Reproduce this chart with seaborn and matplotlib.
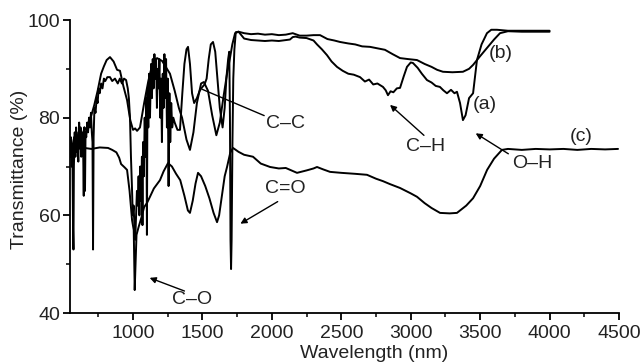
import pandas as pd
import matplotlib
matplotlib.use('Agg')
import matplotlib.pyplot as plt
import seaborn as sns

# Дані (довжина хвилі, пропускання)
wl_a = [546, 552, 558, 563, 568, 571, 574, 580, 585, 590,
        595, 600, 606, 612, 617, 622, 627, 633, 640, 645,
        649, 654, 658, 663, 670, 676, 683, 690, 697, 703,
        708, 712, 716, 722, 730, 738, 745, 752, 760, 770,
        780, 790, 800, 815, 834, 850, 870, 890, 905, 920,
        935, 950, 962, 970, 978, 985, 992, 998, 1004, 1010,
        1016, 1022, 1028, 1034, 1040, 1046, 1052, 1058, 1064, 1068,
        1072, 1078, 1084, 1090, 1096, 1100, 1104, 1110, 1116, 1122,
        1130, 1136, 1142, 1148, 1154, 1160, 1166, 1172, 1178, 1184,
        1190, 1196, 1202, 1208, 1214, 1220, 1226, 1232, 1238, 1244,
        1250, 1256, 1262, 1268, 1275, 1282, 1290, 1300, 1320, 1338,
        1355, 1370, 1385, 1396, 1410, 1425, 1440, 1460, 1480, 1500,
        1515, 1530, 1545, 1560, 1576, 1592, 1608, 1625, 1645, 1660,
        1672, 1685, 1693, 1698, 1702, 1706, 1710, 1716, 1722, 1730,
        1740, 1760, 1800, 1850, 1900, 1950, 2000, 2050, 2100, 2130,
        2150, 2170, 2200, 2250, 2300, 2325, 2360, 2397, 2430, 2469,
        2510, 2550, 2590, 2635, 2670, 2700, 2730, 2760, 2800, 2820,
        2836, 2855, 2875, 2900, 2923, 2950, 2973, 3000, 3016, 3050,
        3080, 3117, 3150, 3180, 3210, 3235, 3261, 3290, 3315, 3333,
        3355, 3376, 3395, 3420, 3449, 3477, 3510, 3549, 3580, 3621,
        3700, 3800, 3900, 4000]
tr_a = [72, 76, 70, 74, 57, 53, 70, 77, 72, 78,
        73, 75, 71, 79, 74, 78, 72, 77, 75, 64,
        78, 65, 77, 76, 79, 77, 80, 78, 81, 77,
        75, 53, 76, 82, 81, 84, 83, 86, 85, 87,
        86, 88, 87.5, 88.3, 88.3, 87.5, 88, 87, 88, 87,
        88, 87.7, 86, 84, 80, 72, 66, 60, 62, 58,
        55, 60, 65, 62, 68, 60, 70, 63, 72, 58,
        75, 68, 80, 72, 84, 56, 86, 78, 89, 80,
        91, 84, 92, 86, 93, 88, 92, 82, 90, 86,
        92, 80, 88, 75, 89, 82, 93, 84, 92, 78,
        88, 66, 85, 75, 83, 78, 80, 79, 77.5, 77.5,
        85, 91, 94, 94.5, 91, 85, 83, 84, 85.5, 86.3,
        86.8, 88, 92, 95, 95.5, 93.5, 88, 82, 78, 82,
        88, 92, 93.5, 80, 55, 49, 55, 75, 88, 94,
        97.5, 97.6, 96.2, 95.9, 95.8, 95.7, 95.8, 95.7, 95.9, 96.0,
        96.5, 96.6, 96.4, 96.3, 95.8, 95, 94, 92.8, 91.5, 90.4,
        89.6, 89, 88.8, 88.3, 87.4, 87.8, 86.8, 87, 86.3, 85.6,
        84.6, 85.4, 85.2, 86, 86.1, 88.5, 90.4, 91.3, 91.2, 90.2,
        89, 87.7, 87.2, 86.5, 86.3, 85.6, 85, 85.7, 85, 85.3,
        83, 79.5, 80.5, 84, 85, 91.8, 95, 97.3, 98, 98,
        97.8, 97.8, 97.8, 97.8]

wl_b = [546, 555, 565, 575, 585, 595, 605, 620, 635, 650,
        662, 680, 700, 720, 745, 770, 790, 810, 834, 860,
        885, 906, 930, 957, 980, 1000, 1015, 1029, 1050, 1080,
        1110, 1140, 1173, 1210, 1240, 1266, 1300, 1330, 1353, 1385,
        1410, 1435, 1460, 1490, 1510, 1540, 1570, 1600, 1625, 1650,
        1677, 1700, 1715, 1735, 1760, 1800, 1850, 1900, 1950, 2000,
        2050, 2100, 2150, 2200, 2250, 2300, 2347, 2400, 2450, 2491,
        2550, 2600, 2650, 2707, 2760, 2814, 2870, 2923, 2980, 3045,
        3100, 3150, 3190, 3232, 3300, 3376, 3420, 3449, 3500, 3550,
        3600, 3643, 3700, 3800, 3900, 4000]
tr_b = [73, 75.5, 72.5, 76, 73, 77, 74, 77.5, 76, 78,
        77.5, 79, 80.5, 82.5, 85.5, 89, 90.5, 91.8, 92.4, 91.5,
        89.8, 89.6, 86.5, 83.6, 79.5, 77.5, 77.8, 77.3, 78, 83,
        87.5, 91, 92.2, 91.6, 90.2, 89, 85.5, 82, 80, 75.5,
        73.4, 77, 83, 87, 87.3, 85.5, 80.5, 76.4, 79, 84,
        89, 92.5, 95, 97.3, 97.6, 97.3, 97.1, 97.2, 97, 97.1,
        96.9, 97, 97.3, 96.8, 96.8, 96.9, 96.9, 96.1, 95.8, 95.5,
        95.2, 95, 94.6, 94.5, 94.2, 93.9, 93, 92.2, 92, 91.8,
        91, 90.4, 89.8, 89.4, 89.3, 89.4, 90, 90.8, 92.6, 94.3,
        96, 97.3, 97.7, 97.6, 97.6, 97.6]

wl_c = [546, 560, 600, 650, 700, 760, 820, 850, 880, 900,
        914, 940, 957, 975, 993, 1005, 1012, 1018, 1025, 1040,
        1060, 1080, 1100, 1122, 1150, 1194, 1220, 1252, 1280, 1310,
        1340, 1370, 1395, 1410, 1430, 1450, 1468, 1490, 1520, 1550,
        1580, 1605, 1620, 1640, 1660, 1677, 1700, 1720, 1760, 1800,
        1864, 1920, 1987, 2050, 2100, 2181, 2250, 2300, 2325, 2370,
        2419, 2500, 2600, 2685, 2750, 2800, 2850, 2923, 3000, 3045,
        3100, 3150, 3211, 3280, 3333, 3400, 3449, 3500, 3550, 3600,
        3657, 3700, 3800, 3900, 4000, 4100, 4200, 4300, 4400, 4493]
tr_c = [73.5, 73.8, 73.6, 73.8, 73.6, 73.9, 73.8, 73.4, 72.9, 71.8,
        70.5, 69.8, 69.3, 65, 59, 57, 44.7, 50, 56, 57.6,
        59.5, 61.7, 62.5, 63.8, 65.5, 67.2, 69, 70.7, 70, 68.5,
        67.2, 64, 61, 60.5, 63, 66.5, 68.7, 68, 66, 63.5,
        60.5, 58.6, 60, 64, 68, 69.9, 72.8, 73.8, 73, 72.4,
        72, 70.6, 69.9, 69.6, 69.7, 68.7, 69.2, 69.6, 69.9, 69.4,
        68.9, 68.7, 68.5, 68.3, 67.5, 67, 66.4, 65.6, 64.5, 63.8,
        62.5, 61.5, 60.5, 60.4, 60.5, 62, 63.5, 66, 69.3, 71.6,
        73.4, 73.6, 73.4, 73.6, 73.5, 73.6, 73.4, 73.6, 73.5, 73.6]

df = pd.concat([
    pd.DataFrame({'wl': wl_a, 'T': tr_a, 'sample': 'a'}),
    pd.DataFrame({'wl': wl_b, 'T': tr_b, 'sample': 'b'}),
    pd.DataFrame({'wl': wl_c, 'T': tr_c, 'sample': 'c'}),
], ignore_index=True)

sns.set_style('ticks')
plt.rcParams['font.family'] = ['Liberation Sans', 'DejaVu Sans']
fs = 14
txt_col = '#222222'

fig = plt.figure(figsize=(6.42, 3.62), dpi=100)
ax = fig.add_axes([70 / 642, 1 - 313 / 362, 549 / 642, 293 / 362])

sns.lineplot(data=df, x='wl', y='T', hue='sample', palette=['black'] * 3,
             estimator=None, sort=False, legend=False, linewidth=1.4, ax=ax)

ax.set_xlim(546, 4500)
ax.set_ylim(40, 100)
ax.set_xticks([1000, 1500, 2000, 2500, 3000, 3500, 4000, 4500])
ax.set_xticks([750, 1250, 1750, 2250, 2750, 3250, 3750, 4250], minor=True)
ax.set_yticks([40, 60, 80, 100])
ax.set_yticks([50, 70, 90], minor=True)
ax.tick_params(which='major', direction='out', length=5, width=1.3, labelsize=fs,
               pad=2, colors='black', labelcolor=txt_col)
ax.tick_params(axis='x', which='major', pad=4)
ax.tick_params(which='minor', direction='out', length=3, width=1.3)
for s in ['top', 'right']:
    ax.spines[s].set_visible(False)
for s in ['left', 'bottom']:
    ax.spines[s].set_linewidth(1.3)
    ax.spines[s].set_color('black')

ax.set_xlabel('Wavelength (nm)', fontsize=fs, color=txt_col)
ax.set_ylabel('Transmittance (%)', fontsize=fs, color=txt_col)
ax.xaxis.set_label_coords(0.554, -0.11)
ax.yaxis.set_label_coords(-0.077, 0.49)

# Підписи смуг
ax.annotate('', xy=(1482, 86), xytext=(1963, 80.2),
            arrowprops=dict(arrowstyle='-', color='black', lw=1))
ax.text(2100, 78.8, 'C–C', fontsize=fs, color=txt_col, ha='center', va='center')

ax.annotate('', xy=(1756, 58), xytext=(2059, 63.1),
            arrowprops=dict(arrowstyle='-|>', color='black', lw=1, mutation_scale=9))
ax.text(2095, 65.5, 'C=O', fontsize=fs, color=txt_col, ha='center', va='center')

ax.annotate('', xy=(1101, 47.4), xytext=(1389, 44.3),
            arrowprops=dict(arrowstyle='-|>', color='black', lw=1, mutation_scale=9))
ax.text(1427, 42.7, 'C–O', fontsize=fs, color=txt_col, ha='center', va='center')

ax.annotate('', xy=(2836, 83), xytext=(3110, 76),
            arrowprops=dict(arrowstyle='-|>', color='black', lw=1, mutation_scale=9))
ax.text(3110, 74.05, 'C–H', fontsize=fs, color=txt_col, ha='center', va='center')

ax.annotate('', xy=(3451, 77.1), xytext=(3720, 72.3),
            arrowprops=dict(arrowstyle='-|>', color='black', lw=1, mutation_scale=9))
ax.text(3875, 70.65, 'O–H', fontsize=fs, color=txt_col, ha='center', va='center')

ax.text(3535, 82.6, '(a)', fontsize=fs, color=txt_col, ha='center', va='center')
ax.text(3650, 93.2, '(b)', fontsize=fs, color=txt_col, ha='center', va='center')
ax.text(4231, 76.1, '(c)', fontsize=fs, color=txt_col, ha='center', va='center')

fig.savefig('out.png', dpi=100)
